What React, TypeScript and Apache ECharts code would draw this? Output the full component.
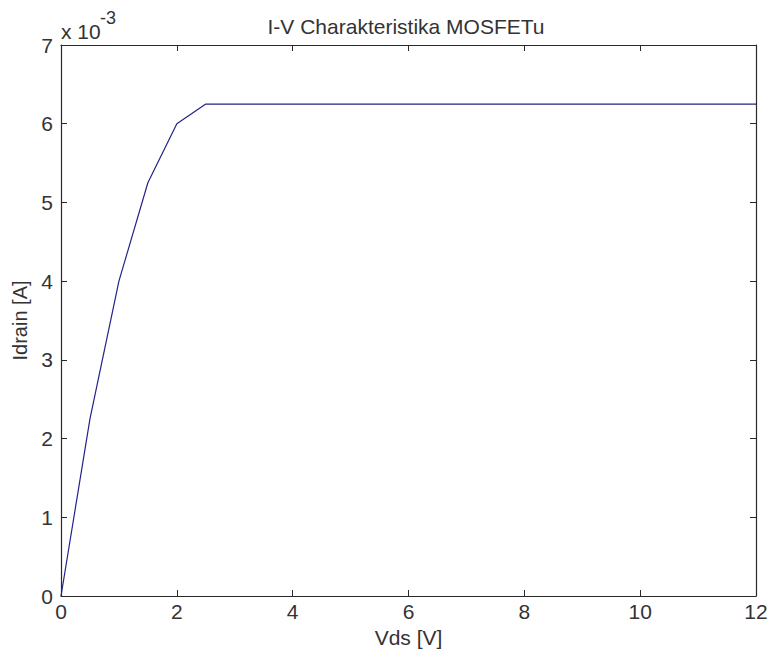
import React, { useEffect, useRef } from "react";
import * as echarts from "echarts";

const vds: number[] = [0, 0.5, 1, 1.5, 2, 2.5, 3, 3.5, 4, 4.5, 5, 5.5, 6, 6.5, 7, 7.5, 8, 8.5, 9, 9.5, 10, 10.5, 11, 11.5, 12];
const idrain: number[] = [0, 2.25e-3, 4.0e-3, 5.25e-3, 6.0e-3, 6.25e-3, 6.25e-3, 6.25e-3, 6.25e-3, 6.25e-3, 6.25e-3, 6.25e-3, 6.25e-3, 6.25e-3, 6.25e-3, 6.25e-3, 6.25e-3, 6.25e-3, 6.25e-3, 6.25e-3, 6.25e-3, 6.25e-3, 6.25e-3, 6.25e-3, 6.25e-3];
const title = "I-V Charakteristika MOSFETu";
const xName = "Vds [V]";
const yName = "Idrain [A]";
const yScale = 1e-3;

export default function App() {
  const ref = useRef<HTMLDivElement>(null);
  useEffect(() => {
    if (!ref.current) return;
    const chart = echarts.init(ref.current, null, { renderer: "svg" });
    const font = "'Liberation Sans', Arial, sans-serif";
    const axisColor = "#2a2a2a";
    const textColor = "#333333";
    const grid = { left: 61, right: 16, top: 45, bottom: 63 };
    const tickStyle = { show: true, inside: true, length: 6, lineStyle: { color: axisColor, width: 1 } };
    const data = vds.map((v, i) => [v, idrain[i] / yScale]);
    chart.setOption({
      animation: false,
      backgroundColor: "#ffffff",
      title: {
        text: title,
        left: 401,
        textAlign: "center",
        top: 11,
        textStyle: { fontFamily: font, fontSize: 21, fontWeight: "normal", color: textColor },
      },
      grid: { ...grid, containLabel: false },
      xAxis: [
        {
          type: "value",
          min: 0,
          max: 12,
          interval: 2,
          position: "bottom",
          name: xName,
          nameLocation: "middle",
          nameGap: 31,
          nameTextStyle: { fontFamily: font, fontSize: 21, color: textColor },
          axisLine: { show: true, onZero: false, lineStyle: { color: axisColor, width: 1.2 } },
          axisTick: tickStyle,
          axisLabel: { fontFamily: font, fontSize: 21, color: textColor, margin: 5 },
          splitLine: { show: false },
        },
        {
          type: "value",
          min: 0,
          max: 12,
          interval: 2,
          position: "top",
          axisLine: { show: true, onZero: false, lineStyle: { color: axisColor, width: 1.2 } },
          axisTick: tickStyle,
          axisLabel: { show: false },
          splitLine: { show: false },
        },
      ],
      yAxis: [
        {
          type: "value",
          min: 0,
          max: 7,
          interval: 1,
          position: "left",
          name: yName,
          nameLocation: "middle",
          nameGap: 20,
          nameRotate: 90,
          nameTextStyle: { fontFamily: font, fontSize: 20, color: textColor },
          axisLine: { show: true, onZero: false, lineStyle: { color: axisColor, width: 1.2 } },
          axisTick: tickStyle,
          axisLabel: { fontFamily: font, fontSize: 21, color: textColor, margin: 8 },
          splitLine: { show: false },
        },
        {
          type: "value",
          min: 0,
          max: 7,
          interval: 1,
          position: "right",
          axisLine: { show: true, onZero: false, lineStyle: { color: axisColor, width: 1.2 } },
          axisTick: tickStyle,
          axisLabel: { show: false },
          splitLine: { show: false },
        },
      ],
      graphic: [
        {
          type: "text",
          x: 61,
          y: 31,
          style: {
            text: "x 10",
            fontFamily: font,
            fontSize: 21,
            fill: textColor,
            verticalAlign: "middle",
            align: "left",
          },
        },
        {
          type: "text",
          x: 100,
          y: 18,
          style: {
            text: "-3",
            fontFamily: font,
            fontSize: 18,
            fill: textColor,
            verticalAlign: "middle",
            align: "left",
          },
        },
      ],
      series: [
        {
          type: "line",
          xAxisIndex: 0,
          yAxisIndex: 0,
          data,
          showSymbol: false,
          symbol: "none",
          lineStyle: { color: "#22228a", width: 1.2 },
        },
      ],
    });
    return () => chart.dispose();
  }, []);
  return <div ref={ref} style={{ position: "fixed", left: 0, top: 0, width: 772, height: 659, background: "#fff" }} />;
}
